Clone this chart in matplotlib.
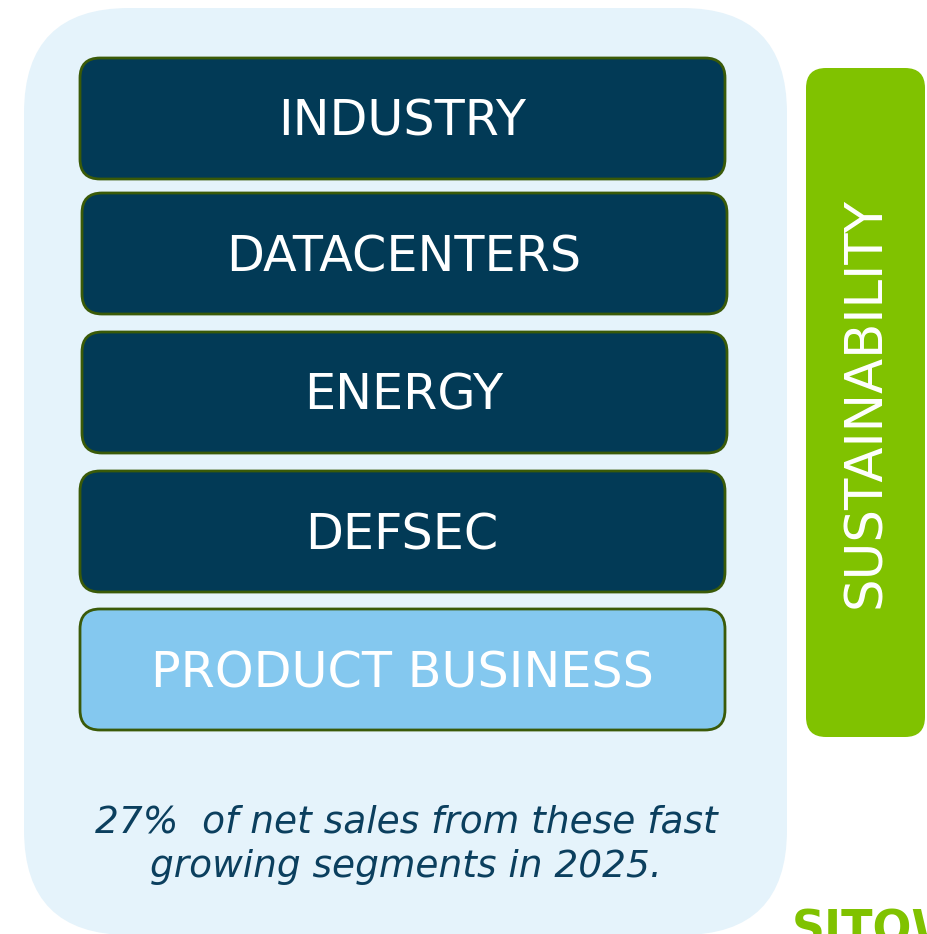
import matplotlib.pyplot as plt
from matplotlib.patches import FancyBboxPatch

# segments top to bottom
segments = ['INDUSTRY', 'DATACENTERS', 'ENERGY', 'DEFSEC', 'PRODUCT BUSINESS']
is_product = [False, False, False, False, True]
side_label = 'SUSTAINABILITY'
note = '27%  of net sales from these fast\ngrowing segments in 2025.'
logo = 'SITOWISE'

navy = '#023a56'
light = '#84c8ef'
panel = '#e5f3fb'
green = '#80c200'
edge = '#3a5a08'

W, H = 928, 934
fig = plt.figure(figsize=(W / 100, H / 100), dpi=100)
ax = fig.add_axes([0, 0, 1, 1])
ax.set_xlim(0, W)
ax.set_ylim(H, 0)
ax.axis('off')

# big light panel
ax.add_patch(FancyBboxPatch((24, 8), 763, 927,
                            boxstyle='round,pad=0,rounding_size=105',
                            fc=panel, ec='none'))

# segment boxes
tops = [58, 193, 332, 471, 609]
lefts = [80, 82, 82, 80, 80]
for lab, top, left, prod in zip(segments, tops, lefts, is_product):
    ax.add_patch(FancyBboxPatch((left, top), 645, 121,
                                boxstyle='round,pad=0,rounding_size=20',
                                fc=light if prod else navy, ec=edge, lw=2))
    ax.text(left + 322, top + 64, lab, color='white', fontsize=35.5,
            ha='center', va='center')

# green sustainability bar
ax.add_patch(FancyBboxPatch((806, 68), 119, 669,
                            boxstyle='round,pad=0,rounding_size=20',
                            fc=green, ec='none'))
ax.text(866, 403, side_label, color='white', fontsize=37, rotation=90,
        ha='center', va='center')

ax.text(406, 845, note, color='#0b3f5e', fontsize=27, style='italic',
        ha='center', va='center', linespacing=1.3)

ax.text(792, 944, logo, color=green, fontsize=33, fontweight='bold',
        ha='left', va='baseline')

fig.savefig('out.png', dpi=100)
